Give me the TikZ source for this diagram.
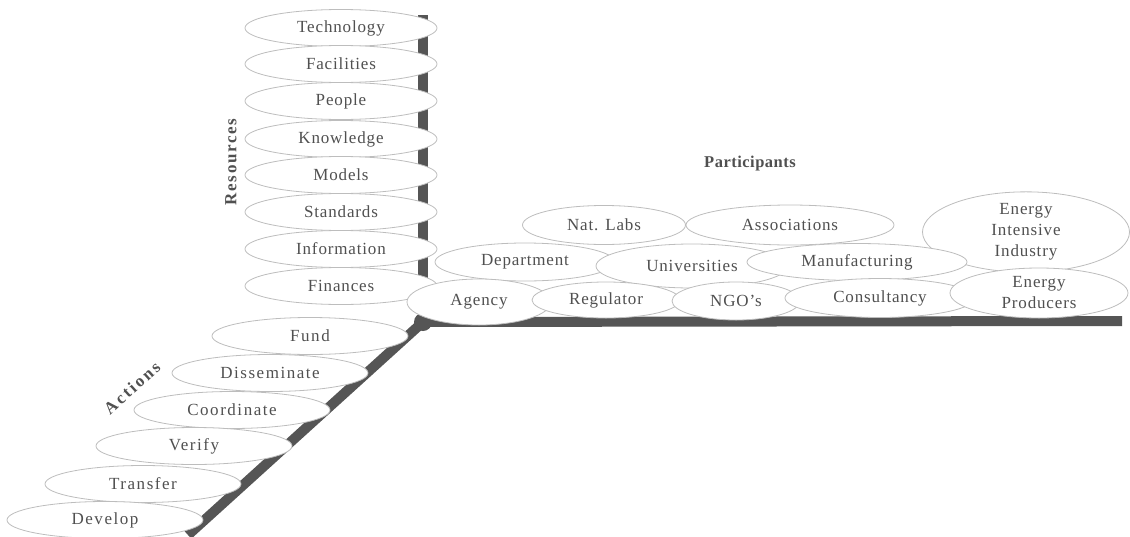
\documentclass[tikz,border=0pt]{standalone}
\usepackage{fontspec}
\setmainfont{Liberation Serif}[LetterSpace=5]
\usepackage{xcolor}
\usepackage{tikz}
\usetikzlibrary{shapes.geometric}

\definecolor{axisgray}{HTML}{555555}
\definecolor{rimgray}{HTML}{BDBDBD}
\definecolor{textgray}{HTML}{505050}

\begin{document}
\begin{tikzpicture}[
    x=1pt, y=-1pt,
    every node/.style={font=\fontsize{17}{21}\selectfont, text=textgray},
    blob/.style={ellipse, draw=rimgray, fill=white, inner sep=0pt, line width=0.8pt},
    res/.style={blob, minimum width=192pt, minimum height=37pt},
    act/.style={blob, minimum width=196pt, minimum height=37pt,
        font=\fontsize{17}{21}\selectfont\addfontfeatures{LetterSpace=9}},
    part/.style={blob, align=center},
    axis/.style={draw=axisgray, line width=10pt},
    lbl/.style={font=\fontsize{16.5}{20}\selectfont\bfseries}
]
\useasboundingbox (0,0) rectangle (1130,536);

% Axes
\coordinate (O)    at (423,322);
\coordinate (rtop) at (423,15);
\coordinate (pend) at (1122,321);
\coordinate (aend) at (188,535);
\draw[axis] (O) -- (rtop);
\draw[axis] (O) -- (pend);
\draw[axis] (O) -- (aend);
\fill[axisgray] (O) circle (9pt);

% Resources column
\node[res] (tech)  at (341,28)  {Technology};
\node[res] (fac)   at (341,64)  {Facilities};
\node[res] (ppl)   at (341,101) {People};
\node[res] (know)  at (341,139) {Knowledge};
\node[res] (mod)   at (341,175) {Models};
\node[res] (std)   at (341,212) {Standards};
\node[res] (info)  at (341,249) {Information};
\node[res] (fin)   at (341,286) {Finances};
\node[lbl, rotate=90, font=\fontsize{17}{20}\selectfont\bfseries\addfontfeatures{LetterSpace=10}] (reslbl) at (231,162) {Resources};

% Participants, back row
\node[part, minimum width=163pt, minimum height=39pt] (labs)  at (604,225) {Nat. Labs};
\node[part, minimum width=208pt, minimum height=40pt] (assoc) at (790,225) {Associations};
\node[part, minimum width=207pt, minimum height=79pt] (eii) at (1026,232) {Energy\\Intensive\\Industry};

% Participants, middle row
\node[part, minimum width=180pt, minimum height=38pt] (dept)  at (525,262) {Department};
\node[part, minimum width=192pt, minimum height=44pt] (univ)  at (692,266) {Universities};
\node[part, minimum width=220pt, minimum height=37pt] (manuf) at (857,262) {Manufacturing};

% Participants, front row
\node[part, minimum width=144pt, minimum height=46pt] (agency) at (479,302) {Agency};
\node[part, minimum width=148pt, minimum height=36pt] (regul)  at (606,300) {Regulator};
\node[part, minimum width=128pt, minimum height=38pt] (ngo)    at (736,301) {NGO’s};
\node[part, minimum width=190pt, minimum height=39pt] (consult) at (880,298) {Consultancy};
\node[part, minimum width=178pt, minimum height=50pt] (eprod) at (1039,293) {Energy\\Producers};
\node[lbl, font=\fontsize{16.5}{20}\selectfont\bfseries\addfontfeatures{LetterSpace=3}] (partlbl) at (750,164) {Participants};

% Actions diagonal
\node[act] (fund)     at (310,336) {Fund};
\node[act] (dissem)   at (270,373) {Disseminate};
\node[act] (coord)    at (232,410) {Coordinate};
\node[act] (verify)   at (194,446) {Verify};
\node[act] (transfer) at (143,484) {Transfer};
\node[act] (develop)  at (105,520) {Develop};
\node[lbl, rotate=42, font=\fontsize{17}{20}\selectfont\bfseries\addfontfeatures{LetterSpace=14}] (actlbl) at (132,388) {Actions};

\end{tikzpicture}
\end{document}
